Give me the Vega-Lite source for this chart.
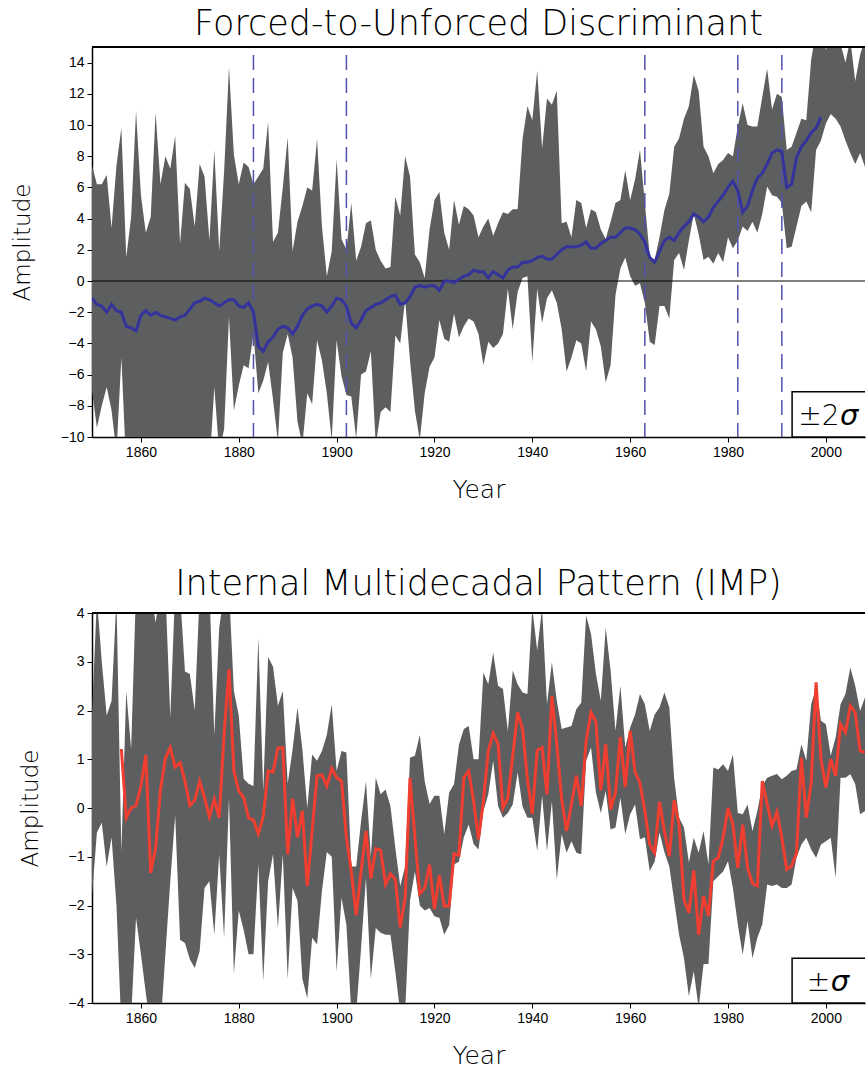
{
  "$schema": "https://vega.github.io/schema/vega-lite/v6.json",
  "padding": {"left": 11, "top": 7, "right": 0, "bottom": 0},
  "background": "white",
  "spacing": 65,
  "config": {
    "view": {"stroke": null},
    "axis": {
      "labelFont": "Liberation Sans",
      "labelFontSize": 14,
      "labelColor": "black",
      "labelOverlap": false,
      "titleFont": "DejaVu Sans",
      "titleFontWeight": 300,
      "titleColor": "black",
      "domainColor": "black",
      "domainWidth": 1.5,
      "tickColor": "black",
      "tickWidth": 1,
      "tickSize": 5,
      "labelPadding": 3,
      "grid": false
    },
    "title": {"font": "DejaVu Sans", "fontWeight": 300, "fontSize": 35, "color": "black", "offset": 4}
  },
  "datasets": {
    "top": [
      {"year":1850,"lo":-7.0,"hi":7.4,"v":-1.1},{"year":1851,"lo":-9.4,"hi":6.2,"v":-1.5},{"year":1852,"lo":-8.0,"hi":6.2,"v":-1.6},{"year":1853,"lo":-6.8,"hi":6.8,"v":-2.0},{"year":1854,"lo":-8.3,"hi":3.4,"v":-1.5},
      {"year":1855,"lo":-11,"hi":7.4,"v":-1.9},{"year":1856,"lo":-4.9,"hi":9.8,"v":-2.0},{"year":1857,"lo":-12,"hi":1.5,"v":-2.9},{"year":1858,"lo":-13,"hi":4.1,"v":-3.0},{"year":1859,"lo":-13,"hi":10.9,"v":-3.2},
      {"year":1860,"lo":-13,"hi":5.5,"v":-2.2},{"year":1861,"lo":-13,"hi":3.1,"v":-1.9},{"year":1862,"lo":-13,"hi":4.1,"v":-2.2},{"year":1863,"lo":-13,"hi":10.8,"v":-2.0},{"year":1864,"lo":-13,"hi":6.2,"v":-2.2},
      {"year":1865,"lo":-13,"hi":8.0,"v":-2.3},{"year":1866,"lo":-13,"hi":7.2,"v":-2.4},{"year":1867,"lo":-13,"hi":9.3,"v":-2.5},{"year":1868,"lo":-13,"hi":2.4,"v":-2.3},{"year":1869,"lo":-13,"hi":6.3,"v":-2.2},
      {"year":1870,"lo":-13,"hi":5.9,"v":-1.8},{"year":1871,"lo":-13,"hi":3.5,"v":-1.4},{"year":1872,"lo":-13,"hi":7.5,"v":-1.3},{"year":1873,"lo":-13,"hi":6.7,"v":-1.1},{"year":1874,"lo":-12,"hi":2.6,"v":-1.2},
      {"year":1875,"lo":-6.8,"hi":8.4,"v":-1.4},{"year":1876,"lo":-11,"hi":1.9,"v":-1.6},{"year":1877,"lo":-9.5,"hi":7.0,"v":-1.4},{"year":1878,"lo":-2.3,"hi":13.7,"v":-1.2},{"year":1879,"lo":-8.3,"hi":8.1,"v":-1.2},
      {"year":1880,"lo":-6.7,"hi":6.2,"v":-1.6},{"year":1881,"lo":-5.4,"hi":7.6,"v":-1.7},{"year":1882,"lo":-5.6,"hi":7.3,"v":-1.4},{"year":1883,"lo":-3.4,"hi":6.2,"v":-2.0},{"year":1884,"lo":-7.2,"hi":6.7,"v":-4.2},
      {"year":1885,"lo":-6.4,"hi":7.2,"v":-4.5},{"year":1886,"lo":-5.2,"hi":10.2,"v":-3.9},{"year":1887,"lo":-7.6,"hi":2.5,"v":-3.6},{"year":1888,"lo":-10.3,"hi":3.1,"v":-3.1},{"year":1889,"lo":-4.6,"hi":6.0,"v":-2.9},
      {"year":1890,"lo":-3.4,"hi":9.2,"v":-3.0},{"year":1891,"lo":-4.9,"hi":1.9,"v":-3.4},{"year":1892,"lo":-9.0,"hi":3.8,"v":-2.9},{"year":1893,"lo":-10.5,"hi":4.8,"v":-2.2},{"year":1894,"lo":-7.2,"hi":6.0,"v":-1.8},
      {"year":1895,"lo":-7.9,"hi":5.8,"v":-1.6},{"year":1896,"lo":-3.8,"hi":9.1,"v":-1.5},{"year":1897,"lo":-5.1,"hi":3.5,"v":-1.6},{"year":1898,"lo":-7.2,"hi":0.3,"v":-2.0},{"year":1899,"lo":-10.2,"hi":1.9,"v":-1.6},
      {"year":1900,"lo":-3.8,"hi":7.8,"v":-1.1},{"year":1901,"lo":-6.1,"hi":2.7,"v":-1.2},{"year":1902,"lo":-7.3,"hi":2.0,"v":-1.6},{"year":1903,"lo":-7.4,"hi":5.0,"v":-2.7},{"year":1904,"lo":-10.1,"hi":1.3,"v":-3.0},
      {"year":1905,"lo":-6.0,"hi":2.2,"v":-2.5},{"year":1906,"lo":-5.8,"hi":3.7,"v":-1.9},{"year":1907,"lo":-4.5,"hi":3.9,"v":-1.7},{"year":1908,"lo":-10.5,"hi":2.0,"v":-1.5},{"year":1909,"lo":-8.4,"hi":1.3,"v":-1.4},
      {"year":1910,"lo":-8.1,"hi":0.8,"v":-1.2},{"year":1911,"lo":-8.4,"hi":0.9,"v":-1.0},{"year":1912,"lo":-3.5,"hi":5.4,"v":-0.9},{"year":1913,"lo":-4.0,"hi":4.2,"v":-1.5},{"year":1914,"lo":-1.2,"hi":8.0,"v":-1.4},
      {"year":1915,"lo":-5.1,"hi":6.7,"v":-1.0},{"year":1916,"lo":-8.3,"hi":1.7,"v":-0.4},{"year":1917,"lo":-10.2,"hi":1.2,"v":-0.3},{"year":1918,"lo":-7.2,"hi":0.2,"v":-0.4},{"year":1919,"lo":-5.5,"hi":3.3,"v":-0.3},
      {"year":1920,"lo":-4.9,"hi":5.2,"v":-0.3},{"year":1921,"lo":-2.5,"hi":5.7,"v":-0.6},{"year":1922,"lo":-3.7,"hi":3.1,"v":0.0},{"year":1923,"lo":-3.9,"hi":2.0,"v":0.0},{"year":1924,"lo":-2.1,"hi":5.2,"v":-0.1},
      {"year":1925,"lo":-3.6,"hi":3.6,"v":0.1},{"year":1926,"lo":-2.9,"hi":4.8,"v":0.3},{"year":1927,"lo":-2.4,"hi":4.6,"v":0.4},{"year":1928,"lo":-2.6,"hi":4.2,"v":0.7},{"year":1929,"lo":-3.4,"hi":2.8,"v":0.6},
      {"year":1930,"lo":-5.4,"hi":3.5,"v":0.6},{"year":1931,"lo":-3.9,"hi":4.0,"v":0.2},{"year":1932,"lo":-4.3,"hi":2.9,"v":0.6},{"year":1933,"lo":-4.0,"hi":3.7,"v":0.4},{"year":1934,"lo":-3.4,"hi":4.4,"v":0.2},
      {"year":1935,"lo":-0.5,"hi":4.3,"v":0.7},{"year":1936,"lo":-3.1,"hi":4.6,"v":0.9},{"year":1937,"lo":-0.7,"hi":4.6,"v":0.9},{"year":1938,"lo":0.2,"hi":9.1,"v":1.2},{"year":1939,"lo":0.3,"hi":11.2,"v":1.2},
      {"year":1940,"lo":-5.2,"hi":10.3,"v":1.3},{"year":1941,"lo":-0.5,"hi":13.5,"v":1.5},{"year":1942,"lo":-2.7,"hi":8.5,"v":1.6},{"year":1943,"lo":-1.1,"hi":11.7,"v":1.4},{"year":1944,"lo":-0.6,"hi":11.3,"v":1.4},
      {"year":1945,"lo":-1.4,"hi":12.2,"v":1.7},{"year":1946,"lo":-3.1,"hi":3.7,"v":2.0},{"year":1947,"lo":-5.8,"hi":3.8,"v":2.2},{"year":1948,"lo":-4.9,"hi":2.8,"v":2.2},{"year":1949,"lo":-3.8,"hi":5.2,"v":2.2},
      {"year":1950,"lo":-4.0,"hi":5.0,"v":2.3},{"year":1951,"lo":-5.8,"hi":3.4,"v":2.5},{"year":1952,"lo":-2.6,"hi":4.6,"v":2.1},{"year":1953,"lo":-3.1,"hi":4.4,"v":2.1},{"year":1954,"lo":-4.2,"hi":3.3,"v":2.4},
      {"year":1955,"lo":-6.5,"hi":2.7,"v":2.6},{"year":1956,"lo":-5.4,"hi":3.8,"v":2.8},{"year":1957,"lo":-0.9,"hi":5.0,"v":2.8},{"year":1958,"lo":0.8,"hi":5.2,"v":3.1},{"year":1959,"lo":1.5,"hi":7.1,"v":3.4},
      {"year":1960,"lo":0.3,"hi":5.2,"v":3.4},{"year":1961,"lo":-0.3,"hi":6.5,"v":3.3},{"year":1962,"lo":-0.15,"hi":8.4,"v":3.0},{"year":1963,"lo":-1.4,"hi":5.0,"v":2.5},{"year":1964,"lo":-3.9,"hi":1.6,"v":1.5},
      {"year":1965,"lo":-4.1,"hi":1.35,"v":1.2},{"year":1966,"lo":-1.6,"hi":2.8,"v":1.9},{"year":1967,"lo":-1.6,"hi":4.55,"v":2.6},{"year":1968,"lo":-2.4,"hi":5.6,"v":2.8},{"year":1969,"lo":1.35,"hi":8.6,"v":2.6},
      {"year":1970,"lo":1.8,"hi":9.15,"v":3.1},{"year":1971,"lo":0.7,"hi":10.4,"v":3.5},{"year":1972,"lo":2.6,"hi":11.2,"v":3.8},{"year":1973,"lo":4.3,"hi":13.2,"v":4.3},{"year":1974,"lo":3.0,"hi":12.2,"v":4.1},
      {"year":1975,"lo":1.35,"hi":8.6,"v":3.8},{"year":1976,"lo":1.55,"hi":8.0,"v":4.1},{"year":1977,"lo":1.1,"hi":6.9,"v":4.7},{"year":1978,"lo":1.8,"hi":7.5,"v":5.1},{"year":1979,"lo":1.2,"hi":7.75,"v":5.5},
      {"year":1980,"lo":2.8,"hi":8.2,"v":6.0},{"year":1981,"lo":2.1,"hi":8.0,"v":6.4},{"year":1982,"lo":2.6,"hi":9.9,"v":5.8},{"year":1983,"lo":3.5,"hi":11.4,"v":4.4},{"year":1984,"lo":3.2,"hi":10.0,"v":4.8},
      {"year":1985,"lo":3.8,"hi":9.9,"v":5.8},{"year":1986,"lo":3.1,"hi":9.9,"v":6.6},{"year":1987,"lo":4.3,"hi":11.8,"v":6.9},{"year":1988,"lo":6.05,"hi":13.6,"v":7.5},{"year":1989,"lo":5.5,"hi":11.0,"v":8.2},
      {"year":1990,"lo":5.4,"hi":12.0,"v":8.4},{"year":1991,"lo":5.0,"hi":11.8,"v":8.3},{"year":1992,"lo":2.1,"hi":8.4,"v":6.0},{"year":1993,"lo":2.2,"hi":8.6,"v":6.2},{"year":1994,"lo":3.5,"hi":9.5,"v":7.9},
      {"year":1995,"lo":4.8,"hi":10.4,"v":8.6},{"year":1996,"lo":5.1,"hi":10.3,"v":9.0},{"year":1997,"lo":4.4,"hi":14.2,"v":9.5},{"year":1998,"lo":8.4,"hi":16.0,"v":9.8},{"year":1999,"lo":9.0,"hi":16.5,"v":10.5},
      {"year":2000,"lo":10.1,"hi":14.8},{"year":2001,"lo":10.7,"hi":16.0},{"year":2002,"lo":10.4,"hi":16.0},{"year":2003,"lo":9.9,"hi":15.2},{"year":2004,"lo":9.0,"hi":14.0},
      {"year":2005,"lo":8.2,"hi":15.5},{"year":2006,"lo":7.5,"hi":12.8},{"year":2007,"lo":8.2,"hi":14.5},{"year":2008,"lo":7.3,"hi":15.5}
    ],
    "bot": [
      {"year":1850,"lo":-1.8,"hi":1.9},{"year":1851,"lo":-0.5,"hi":4.3},{"year":1852,"lo":-0.3,"hi":3.0},{"year":1853,"lo":-1.2,"hi":1.9},{"year":1854,"lo":-0.6,"hi":2.2},
      {"year":1855,"lo":-2.0,"hi":4.3},{"year":1856,"lo":-4.5,"hi":-0.9,"v":1.21},{"year":1857,"lo":-4.5,"hi":2.4,"v":-0.2},{"year":1858,"lo":-4.3,"hi":1.2,"v":0.0},{"year":1859,"lo":-2.25,"hi":4.5,"v":0.05},
      {"year":1860,"lo":-3.0,"hi":4.5,"v":0.45},{"year":1861,"lo":-3.8,"hi":4.5,"v":1.09},{"year":1862,"lo":-4.5,"hi":4.5,"v":-1.33},{"year":1863,"lo":-4.5,"hi":3.8,"v":-0.82},{"year":1864,"lo":-4.5,"hi":4.5,"v":0.38},
      {"year":1865,"lo":-3.0,"hi":4.5,"v":1.02},{"year":1866,"lo":-1.5,"hi":1.86,"v":1.24},{"year":1867,"lo":-0.15,"hi":4.5,"v":0.84},{"year":1868,"lo":-2.7,"hi":4.4,"v":0.93},{"year":1869,"lo":-2.77,"hi":2.8,"v":0.55},
      {"year":1870,"lo":-3.1,"hi":2.75,"v":0.05},{"year":1871,"lo":-3.28,"hi":2.0,"v":0.16},{"year":1872,"lo":-2.94,"hi":4.4,"v":0.55},{"year":1873,"lo":-1.64,"hi":4.5,"v":0.21},{"year":1874,"lo":-1.5,"hi":4.5,"v":-0.18},
      {"year":1875,"lo":-2.6,"hi":1.5,"v":0.18},{"year":1876,"lo":-0.95,"hi":3.7,"v":-0.2},{"year":1877,"lo":-2.66,"hi":4.4,"v":1.51},{"year":1878,"lo":0.21,"hi":4.5,"v":2.85},{"year":1879,"lo":-3.4,"hi":2.4,"v":0.76},
      {"year":1880,"lo":-2.1,"hi":1.9,"v":0.35},{"year":1881,"lo":-2.5,"hi":0.6,"v":0.21},{"year":1882,"lo":-3.0,"hi":0.5,"v":-0.2},{"year":1883,"lo":-3.0,"hi":0.45,"v":-0.25},{"year":1884,"lo":-1.15,"hi":3.5,"v":-0.53},
      {"year":1885,"lo":-3.55,"hi":0.35,"v":-0.18},{"year":1886,"lo":-1.5,"hi":3.1,"v":0.76},{"year":1887,"lo":-0.95,"hi":2.9,"v":0.74},{"year":1888,"lo":-2.46,"hi":2.1,"v":1.23},{"year":1889,"lo":-0.95,"hi":2.4,"v":1.24},
      {"year":1890,"lo":-3.5,"hi":0.5,"v":-0.95},{"year":1891,"lo":-1.64,"hi":1.2,"v":0.19},{"year":1892,"lo":-1.9,"hi":2.06,"v":-0.6},{"year":1893,"lo":-3.5,"hi":1.2,"v":-0.06},{"year":1894,"lo":-3.9,"hi":0.0,"v":-1.6},
      {"year":1895,"lo":-2.66,"hi":1.1,"v":-0.47},{"year":1896,"lo":-2.8,"hi":0.97,"v":0.66},{"year":1897,"lo":-1.7,"hi":1.17,"v":0.68},{"year":1898,"lo":-0.9,"hi":1.5,"v":0.45},{"year":1899,"lo":-1.0,"hi":2.13,"v":0.81},
      {"year":1900,"lo":-3.36,"hi":0.76,"v":0.62},{"year":1901,"lo":-1.84,"hi":1.17,"v":0.55},{"year":1902,"lo":-2.4,"hi":1.14,"v":-0.6},{"year":1903,"lo":-4.2,"hi":-1.2,"v":-1.3},{"year":1904,"lo":-4.2,"hi":-1.2,"v":-2.2},
      {"year":1905,"lo":-2.87,"hi":-0.27,"v":-1.3},{"year":1906,"lo":-1.43,"hi":0.55,"v":-0.47},{"year":1907,"lo":-3.5,"hi":-1.0,"v":-1.45},{"year":1908,"lo":-2.46,"hi":0.62,"v":-0.83},{"year":1909,"lo":-2.56,"hi":0.28,"v":-0.87},
      {"year":1910,"lo":-2.6,"hi":0.38,"v":-1.57},{"year":1911,"lo":-2.6,"hi":0.04,"v":-1.35},{"year":1912,"lo":-3.36,"hi":-0.82,"v":-1.47},{"year":1913,"lo":-4.2,"hi":-1.6,"v":-2.45},{"year":1914,"lo":-4.2,"hi":-1.2,"v":-1.84},
      {"year":1915,"lo":-1.9,"hi":1.03,"v":0.62},{"year":1916,"lo":-1.3,"hi":1.07,"v":-0.6},{"year":1917,"lo":-2.0,"hi":1.5,"v":-1.76},{"year":1918,"lo":-2.1,"hi":0.55,"v":-1.64},{"year":1919,"lo":-2.05,"hi":0.08,"v":-1.16},
      {"year":1920,"lo":-2.22,"hi":0.25,"v":-2.08},{"year":1921,"lo":-2.25,"hi":0.25,"v":-1.38},{"year":1922,"lo":-2.6,"hi":-0.54,"v":-2.01},{"year":1923,"lo":-2.4,"hi":0.32,"v":-2.01},{"year":1924,"lo":-1.16,"hi":0.49,"v":-0.94},
      {"year":1925,"lo":-1.1,"hi":1.3,"v":-0.97},{"year":1926,"lo":-0.6,"hi":1.62,"v":0.62},{"year":1927,"lo":-0.34,"hi":1.68,"v":0.76},{"year":1928,"lo":-0.74,"hi":1.0,"v":0.14},{"year":1929,"lo":-0.85,"hi":1.0,"v":-0.64},
      {"year":1930,"lo":-0.06,"hi":2.78,"v":0.14},{"year":1931,"lo":0.28,"hi":2.54,"v":1.17},{"year":1932,"lo":0.97,"hi":3.19,"v":1.53},{"year":1933,"lo":0.04,"hi":2.51,"v":1.31},{"year":1934,"lo":-0.2,"hi":2.44,"v":0.0},
      {"year":1935,"lo":-0.1,"hi":1.58,"v":0.21},{"year":1936,"lo":0.07,"hi":2.82,"v":1.07},{"year":1937,"lo":0.73,"hi":2.54,"v":1.96},{"year":1938,"lo":0.03,"hi":2.37,"v":1.62},{"year":1939,"lo":-0.2,"hi":2.34,"v":0.59},
      {"year":1940,"lo":-0.2,"hi":4.1,"v":-0.12},{"year":1941,"lo":-0.88,"hi":3.23,"v":1.18},{"year":1942,"lo":0.25,"hi":4.1,"v":1.24},{"year":1943,"lo":-0.88,"hi":2.13,"v":0.28},{"year":1944,"lo":0.14,"hi":2.99,"v":2.3},
      {"year":1945,"lo":-1.47,"hi":2.2,"v":1.31},{"year":1946,"lo":-0.54,"hi":1.62,"v":0.18},{"year":1947,"lo":-0.92,"hi":1.65,"v":-0.47},{"year":1948,"lo":-0.68,"hi":1.68,"v":0.08},{"year":1949,"lo":-0.92,"hi":2.03,"v":0.66},
      {"year":1950,"lo":-0.95,"hi":2.16,"v":0.04},{"year":1951,"lo":0.97,"hi":3.95,"v":1.38},{"year":1952,"lo":1.24,"hi":3.57,"v":1.96},{"year":1953,"lo":0.32,"hi":2.75,"v":1.77},{"year":1954,"lo":-0.1,"hi":2.2,"v":0.36},
      {"year":1955,"lo":0.35,"hi":3.7,"v":1.31},{"year":1956,"lo":-0.44,"hi":2.82,"v":-0.03},{"year":1957,"lo":-0.4,"hi":1.58,"v":0.32},{"year":1958,"lo":0.21,"hi":2.51,"v":1.46},{"year":1959,"lo":-0.54,"hi":1.24,"v":0.43},
      {"year":1960,"lo":-0.13,"hi":1.65,"v":1.58},{"year":1961,"lo":0.07,"hi":1.92,"v":0.73},{"year":1962,"lo":-0.64,"hi":2.34,"v":0.52},{"year":1963,"lo":-0.6,"hi":2.13,"v":-0.06},{"year":1964,"lo":-1.29,"hi":1.58,"v":-0.75},
      {"year":1965,"lo":-1.1,"hi":1.92,"v":-0.92},{"year":1966,"lo":-0.5,"hi":2.06,"v":0.13},{"year":1967,"lo":-0.9,"hi":2.37,"v":-0.47},{"year":1968,"lo":-1.2,"hi":2.06,"v":-0.99},{"year":1969,"lo":-1.9,"hi":0.6,"v":0.16},
      {"year":1970,"lo":-2.6,"hi":-0.2,"v":-0.34},{"year":1971,"lo":-3.08,"hi":-0.4,"v":-1.88},{"year":1972,"lo":-3.86,"hi":-1.12,"v":-2.15},{"year":1973,"lo":-3.35,"hi":-0.61,"v":-1.28},{"year":1974,"lo":-4.1,"hi":-0.92,"v":-2.6},
      {"year":1975,"lo":-3.2,"hi":-0.47,"v":-1.81},{"year":1976,"lo":-3.2,"hi":-1.16,"v":-2.22},{"year":1977,"lo":-1.5,"hi":0.83,"v":-1.09},{"year":1978,"lo":-1.4,"hi":0.79,"v":-1.02},{"year":1979,"lo":-1.3,"hi":0.9,"v":-0.61},
      {"year":1980,"lo":-1.09,"hi":0.76,"v":0.0},{"year":1981,"lo":-1.64,"hi":1.1,"v":-0.34},{"year":1982,"lo":-2.39,"hi":-0.1,"v":-1.23},{"year":1983,"lo":-3.01,"hi":-0.13,"v":-0.34},{"year":1984,"lo":-2.32,"hi":0.07,"v":-1.23},
      {"year":1985,"lo":-3.08,"hi":-0.47,"v":-1.55},{"year":1986,"lo":-2.66,"hi":-0.06,"v":-1.6},{"year":1987,"lo":-2.39,"hi":0.45,"v":0.55},{"year":1988,"lo":-1.57,"hi":0.62,"v":0.08},{"year":1989,"lo":-1.6,"hi":0.66,"v":-0.37},
      {"year":1990,"lo":-1.57,"hi":0.7,"v":-0.08},{"year":1991,"lo":-1.64,"hi":0.59,"v":-0.61},{"year":1992,"lo":-1.64,"hi":0.66,"v":-1.26},{"year":1993,"lo":-1.57,"hi":0.76,"v":-1.19},{"year":1994,"lo":-1.02,"hi":0.79,"v":-0.92},
      {"year":1995,"lo":-0.75,"hi":1.31,"v":1.03},{"year":1996,"lo":-0.61,"hi":0.97,"v":-0.2},{"year":1997,"lo":-0.85,"hi":2.13,"v":0.52},{"year":1998,"lo":-1.02,"hi":2.47,"v":2.58},{"year":1999,"lo":-0.75,"hi":1.79,"v":1.0},
      {"year":2000,"lo":-0.68,"hi":1.72,"v":0.42},{"year":2001,"lo":-0.61,"hi":1.07,"v":1.0},{"year":2002,"lo":-1.43,"hi":1.45,"v":0.66},{"year":2003,"lo":0.62,"hi":2.13,"v":1.72},{"year":2004,"lo":0.62,"hi":2.34,"v":1.55},
      {"year":2005,"lo":0.69,"hi":2.88,"v":2.1},{"year":2006,"lo":0.49,"hi":2.51,"v":1.96},{"year":2007,"lo":-0.13,"hi":1.99,"v":1.17},{"year":2008,"lo":-0.06,"hi":2.27,"v":1.14}
    ],
    "events": [{"year":1883},{"year":1902},{"year":1963},{"year":1982},{"year":1991}]
  },
  "vconcat": [
    {
      "title": {"text": "Forced-to-Unforced Discriminant"},
      "width": 773,
      "height": 390,
      "layer": [
        {
          "data": {"name": "top"},
          "mark": {"type": "area", "color": "#5d5e60", "clip": true, "interpolate": "linear"},
          "encoding": {
            "x": {"field": "year", "type": "quantitative", "scale": {"domain": [1850, 2008], "nice": false, "zero": false},
                  "axis": {"title": "Year", "values": [1860,1880,1900,1920,1940,1960,1980,2000], "tickCount": 20, "format": "d", "titleFontSize": 25, "titlePadding": 18}},
            "y": {"field": "lo", "type": "quantitative", "scale": {"domain": [-10, 15], "nice": false, "zero": false},
                  "axis": {"title": "Amplitude", "values": [-10,-8,-6,-4,-2,0,2,4,6,8,10,12,14], "tickCount": 30, "format": "d", "labelOverlap": false, "titleFontSize": 23, "titlePadding": 26}},
            "y2": {"field": "hi"}
          }
        },
        {
          "data": {"values": [{}]},
          "mark": {"type": "rule", "color": "black", "strokeWidth": 1.2},
          "encoding": {"y": {"datum": 0, "type": "quantitative"}}
        },
        {
          "data": {"name": "events"},
          "mark": {"type": "rule", "color": "#5252ac", "strokeWidth": 1.5, "strokeDash": [15, 8], "strokeDashOffset": 15},
          "encoding": {"x": {"field": "year", "type": "quantitative"}}
        },
        {
          "data": {"name": "top"},
          "mark": {"type": "line", "color": "#33339b", "strokeWidth": 3, "clip": true},
          "encoding": {
            "x": {"field": "year", "type": "quantitative"},
            "y": {"field": "v", "type": "quantitative"}
          }
        },
        {
          "data": {"values": [{}]},
          "mark": {"type": "rule", "color": "black", "strokeWidth": 2},
          "encoding": {"y": {"datum": 15, "type": "quantitative"}}
        },
        {
          "data": {"values": [{}]},
          "mark": {"type": "rect", "fill": "white", "stroke": "black", "strokeWidth": 1.5, "clip": true},
          "encoding": {
            "x": {"datum": 1993.1, "type": "quantitative"},
            "x2": {"datum": 2012},
            "y": {"datum": -7.1, "type": "quantitative"},
            "y2": {"datum": -10}
          }
        },
        {
          "data": {"values": [{}]},
          "mark": {"type": "text", "text": "±2", "align": "right", "baseline": "alphabetic", "fontSize": 28, "font": "DejaVu Sans", "fontWeight": 300, "color": "black"},
          "encoding": {
            "x": {"datum": 2002.8, "type": "quantitative"},
            "y": {"datum": -9.2, "type": "quantitative"}
          }
        },
        {
          "data": {"values": [{}]},
          "mark": {"type": "text", "text": "σ", "align": "left", "baseline": "alphabetic", "fontSize": 29, "font": "DejaVu Sans", "fontWeight": 300, "fontStyle": "italic", "color": "black"},
          "encoding": {
            "x": {"datum": 2002.9, "type": "quantitative"},
            "y": {"datum": -9.2, "type": "quantitative"}
          }
        }
      ]
    },
    {
      "title": {"text": "Internal Multidecadal Pattern (IMP)"},
      "width": 773,
      "height": 390,
      "layer": [
        {
          "data": {"name": "bot"},
          "mark": {"type": "area", "color": "#5d5e60", "clip": true, "interpolate": "linear"},
          "encoding": {
            "x": {"field": "year", "type": "quantitative", "scale": {"domain": [1850, 2008], "nice": false, "zero": false},
                  "axis": {"title": "Year", "values": [1860,1880,1900,1920,1940,1960,1980,2000], "tickCount": 20, "format": "d", "titleFontSize": 25, "titlePadding": 18}},
            "y": {"field": "lo", "type": "quantitative", "scale": {"domain": [-4, 4], "nice": false, "zero": false},
                  "axis": {"title": "Amplitude", "values": [-4,-3,-2,-1,0,1,2,3,4], "tickCount": 20, "format": "d", "labelOverlap": false, "titleFontSize": 23, "titlePadding": 26}},
            "y2": {"field": "hi"}
          }
        },
        {
          "data": {"name": "bot"},
          "mark": {"type": "line", "color": "#f03e30", "strokeWidth": 3, "clip": true},
          "encoding": {
            "x": {"field": "year", "type": "quantitative"},
            "y": {"field": "v", "type": "quantitative"}
          }
        },
        {
          "data": {"values": [{}]},
          "mark": {"type": "rule", "color": "black", "strokeWidth": 2},
          "encoding": {"y": {"datum": 4, "type": "quantitative"}}
        },
        {
          "data": {"values": [{}]},
          "mark": {"type": "rect", "fill": "white", "stroke": "black", "strokeWidth": 1.5, "clip": true},
          "encoding": {
            "x": {"datum": 1993.1, "type": "quantitative"},
            "x2": {"datum": 2012},
            "y": {"datum": -3.08, "type": "quantitative"},
            "y2": {"datum": -4}
          }
        },
        {
          "data": {"values": [{}]},
          "mark": {"type": "text", "text": "±", "align": "right", "baseline": "alphabetic", "fontSize": 28, "font": "DejaVu Sans", "fontWeight": 300, "color": "black"},
          "encoding": {
            "x": {"datum": 2000.9, "type": "quantitative"},
            "y": {"datum": -3.76, "type": "quantitative"}
          }
        },
        {
          "data": {"values": [{}]},
          "mark": {"type": "text", "text": "σ", "align": "left", "baseline": "alphabetic", "fontSize": 29, "font": "DejaVu Sans", "fontWeight": 300, "fontStyle": "italic", "color": "black"},
          "encoding": {
            "x": {"datum": 2001.0, "type": "quantitative"},
            "y": {"datum": -3.76, "type": "quantitative"}
          }
        }
      ]
    }
  ]
}
